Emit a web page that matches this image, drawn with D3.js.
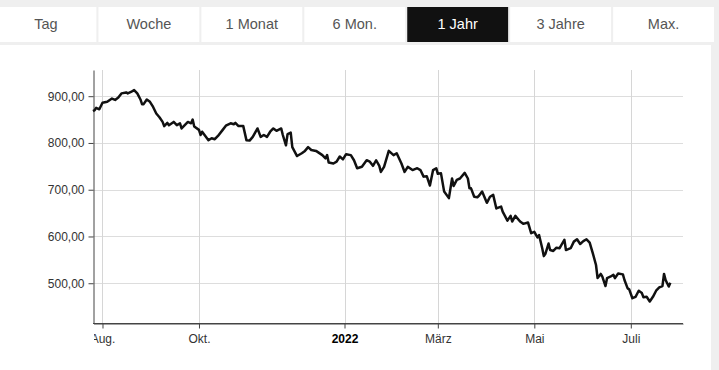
<!DOCTYPE html>
<html lang="de">
<head>
<meta charset="UTF-8">
<title>1 Jahr</title>
<style>
  body { margin: 0; background: #efefef; font-family: "Liberation Sans", Arial, sans-serif; }
  svg { display: block; }
</style>
</head>
<body>
<svg id="chart" width="719" height="370"></svg>
<script src="https://d3js.org/d3.v7.min.js"></script>
<script>
// zeitraum-tabs
const tabs = ["Tag", "Woche", "1 Monat", "6 Mon.", "1 Jahr", "3 Jahre", "Max."];
const activeTab = "1 Jahr";

// kursverlauf
const dates = [
  "2021-07-26","2021-07-27","2021-07-28","2021-07-30","2021-08-01","2021-08-04","2021-08-07","2021-08-09",
  "2021-08-11","2021-08-13","2021-08-16","2021-08-17","2021-08-19","2021-08-21","2021-08-23","2021-08-25",
  "2021-08-26","2021-08-27","2021-08-29","2021-08-31","2021-09-02","2021-09-04","2021-09-06","2021-09-08",
  "2021-09-09","2021-09-11","2021-09-12","2021-09-15","2021-09-17","2021-09-19","2021-09-20","2021-09-22",
  "2021-09-24","2021-09-26","2021-09-27","2021-09-28","2021-10-01","2021-10-02","2021-10-03","2021-10-05",
  "2021-10-07","2021-10-09","2021-10-11","2021-10-13","2021-10-16","2021-10-18","2021-10-21","2021-10-23",
  "2021-10-24","2021-10-26","2021-10-29","2021-10-31","2021-11-02","2021-11-04","2021-11-07","2021-11-09",
  "2021-11-11","2021-11-13","2021-11-15","2021-11-17","2021-11-19","2021-11-22","2021-11-23","2021-11-25",
  "2021-11-26","2021-11-28","2021-11-29","2021-12-02","2021-12-05","2021-12-07","2021-12-09","2021-12-11",
  "2021-12-14","2021-12-18","2021-12-20","2021-12-21","2021-12-22","2021-12-25","2021-12-27","2021-12-29",
  "2021-12-31","2022-01-02","2022-01-05","2022-01-07","2022-01-09","2022-01-12","2022-01-15","2022-01-17",
  "2022-01-19","2022-01-21","2022-01-23","2022-01-24","2022-01-26","2022-01-29","2022-02-01","2022-02-03",
  "2022-02-06","2022-02-08","2022-02-10","2022-02-13","2022-02-16","2022-02-18","2022-02-20","2022-02-22",
  "2022-02-24","2022-02-26","2022-02-28","2022-03-01","2022-03-03","2022-03-05","2022-03-08","2022-03-10",
  "2022-03-11","2022-03-13","2022-03-15","2022-03-18","2022-03-20","2022-03-21","2022-03-22","2022-03-24",
  "2022-03-26","2022-03-27","2022-03-29","2022-04-01","2022-04-03","2022-04-05","2022-04-07","2022-04-10",
  "2022-04-11","2022-04-14","2022-04-16","2022-04-17","2022-04-19","2022-04-22","2022-04-24","2022-04-27",
  "2022-04-29","2022-05-01","2022-05-03","2022-05-04","2022-05-06","2022-05-07","2022-05-08","2022-05-10",
  "2022-05-11","2022-05-13","2022-05-15","2022-05-17","2022-05-20","2022-05-21","2022-05-24","2022-05-26",
  "2022-05-28","2022-05-30","2022-06-01","2022-06-03","2022-06-05","2022-06-07","2022-06-09","2022-06-10",
  "2022-06-12","2022-06-13","2022-06-15","2022-06-16","2022-06-18","2022-06-20","2022-06-21","2022-06-23",
  "2022-06-26","2022-06-27","2022-06-29","2022-06-30","2022-07-02","2022-07-04","2022-07-06","2022-07-08",
  "2022-07-09","2022-07-11","2022-07-13","2022-07-15","2022-07-17","2022-07-19","2022-07-21","2022-07-22",
  "2022-07-23","2022-07-25","2022-07-26"
];
const prices = [
  868, 870, 875, 872, 886, 888, 895, 892,
  897, 906, 908, 906, 909, 913, 906, 893,
  883, 883, 893, 888, 877, 863, 855, 845,
  836, 843, 838, 845, 838, 842, 831, 838,
  845, 842, 850, 835, 828, 817, 824, 815,
  806, 810, 808, 815, 828, 837, 842, 840,
  843, 836, 836, 806, 805, 813, 831, 813,
  817, 813, 824, 831, 826, 831, 817, 795,
  819, 822, 791, 772, 778, 783, 791, 785,
  783, 774, 767, 774, 758, 756, 760, 771,
  765, 776, 774, 763, 746, 749, 763, 760,
  751, 763, 751, 738, 749, 783, 774, 778,
  756, 738, 749, 742, 746, 742, 728, 729,
  709, 742, 746, 734, 735, 696, 682, 724,
  708, 721, 724, 736, 724, 703, 703, 685,
  684, 687, 696, 672, 685, 689, 660, 664,
  653, 634, 644, 632, 644, 632, 627, 630,
  607, 610, 598, 603, 575, 558, 563, 585,
  571, 569, 576, 575, 593, 571, 575, 589,
  594, 584, 590, 594, 587, 564, 539, 511,
  520, 514, 494, 511, 514, 518, 511, 521,
  519, 507, 489, 487, 468, 471, 484, 479,
  470, 471, 461, 471, 484, 491, 494, 520,
  507, 493, 501
];

const yTicks = [500, 600, 700, 800, 900];
const xTickDates = ["2021-08-01", "2021-10-01", "2022-01-01", "2022-03-01", "2022-05-01", "2022-07-01"];
const xTickLabels = ["Aug.", "Okt.", "2022", "März", "Mai", "Juli"];

const parse = d3.timeParse("%Y-%m-%d");
const data = dates.map((d, i) => ({ date: parse(d), value: prices[i] }));

const svg = d3.select("#chart");

// tab leiste
const tabX = d3.scaleBand().domain(tabs).range([-4.5, 714]).paddingInner(0.02);
const tab = svg.append("g").selectAll("g").data(tabs).join("g");
tab.append("rect")
  .attr("x", d => tabX(d)).attr("y", 7)
  .attr("width", tabX.bandwidth()).attr("height", 35)
  .attr("fill", d => d === activeTab ? "#111" : "#fff");
tab.append("text")
  .attr("x", d => tabX(d) + tabX.bandwidth() / 2).attr("y", 29)
  .attr("text-anchor", "middle")
  .style("font-size", "14.5px")
  .attr("fill", d => d === activeTab ? "#fff" : "#555")
  .text(d => d);

// weißes chart-panel
svg.append("rect").attr("x", 0).attr("y", 45).attr("width", 711).attr("height", 325).attr("fill", "#fff");

const margin = { left: 93, right: 683, top: 70, bottom: 323 };
const x = d3.scaleTime()
  .domain([parse("2021-07-26"), parse("2022-08-03")])
  .range([margin.left, margin.right]);
const y = d3.scaleLinear().domain([415, 956]).range([margin.bottom, margin.top]);

const de = d3.formatLocale({ decimal: ",", thousands: ".", grouping: [3], currency: ["", " €"] });
const fmt = de.format(",.2f");

// gitter
svg.append("g")
  .selectAll("line").data(yTicks).join("line")
  .attr("x1", margin.left).attr("x2", margin.right)
  .attr("y1", d => Math.round(y(d)) + 0.5).attr("y2", d => Math.round(y(d)) + 0.5)
  .attr("stroke", "#ddd").attr("stroke-width", 1);
svg.append("g")
  .selectAll("line").data(xTickDates).join("line")
  .attr("x1", d => Math.round(x(parse(d))) + 0.5).attr("x2", d => Math.round(x(parse(d))) + 0.5)
  .attr("y1", margin.top).attr("y2", margin.bottom)
  .attr("stroke", "#d6d6d6").attr("stroke-width", 1);

// y achse
const yAxis = svg.append("g")
  .attr("transform", `translate(${margin.left + 0.5},0)`)
  .call(d3.axisLeft(y).tickValues(yTicks).tickFormat(fmt).tickSize(5).tickPadding(4).tickSizeOuter(0));
yAxis.select(".domain").attr("stroke", "#444");
yAxis.selectAll(".tick line").attr("stroke", "#444");
yAxis.selectAll("text").style("font-size", "12px").style("font-family", "'Liberation Sans', Arial, sans-serif").attr("fill", "#333");

// x achse, beschriftung links abgeschnitten
svg.append("clipPath").attr("id", "xclip")
  .append("rect").attr("x", margin.left + 1).attr("y", 0).attr("width", 719).attr("height", 370);
const xAxis = svg.append("g")
  .attr("transform", `translate(0,${margin.bottom + 0.5})`)
  .attr("clip-path", "url(#xclip)")
  .call(d3.axisBottom(x).tickValues(xTickDates.map(parse))
    .tickFormat((d, i) => xTickLabels[i]).tickSize(5).tickPadding(6).tickSizeOuter(0));
xAxis.select(".domain").attr("stroke", "#444");
xAxis.selectAll(".tick line").attr("stroke", "#444");
xAxis.selectAll("text")
  .style("font-size", "12px").style("font-family", "'Liberation Sans', Arial, sans-serif")
  .attr("fill", "#333")
  .style("font-weight", (d, i) => xTickLabels[i] === "2022" ? "bold" : "normal")
  .attr("fill", (d, i) => xTickLabels[i] === "2022" ? "#000" : "#333");
// achsenlinie selbst ungeclippt
svg.append("line")
  .attr("x1", margin.left).attr("x2", margin.right)
  .attr("y1", margin.bottom + 0.5).attr("y2", margin.bottom + 0.5)
  .attr("stroke", "#444");

// kurslinie
svg.append("path")
  .datum(data)
  .attr("d", d3.line().x(d => x(d.date)).y(d => y(d.value)))
  .attr("fill", "none")
  .attr("stroke", "#111")
  .attr("stroke-width", 2.5)
  .attr("stroke-linejoin", "round");
</script>
</body>
</html>
